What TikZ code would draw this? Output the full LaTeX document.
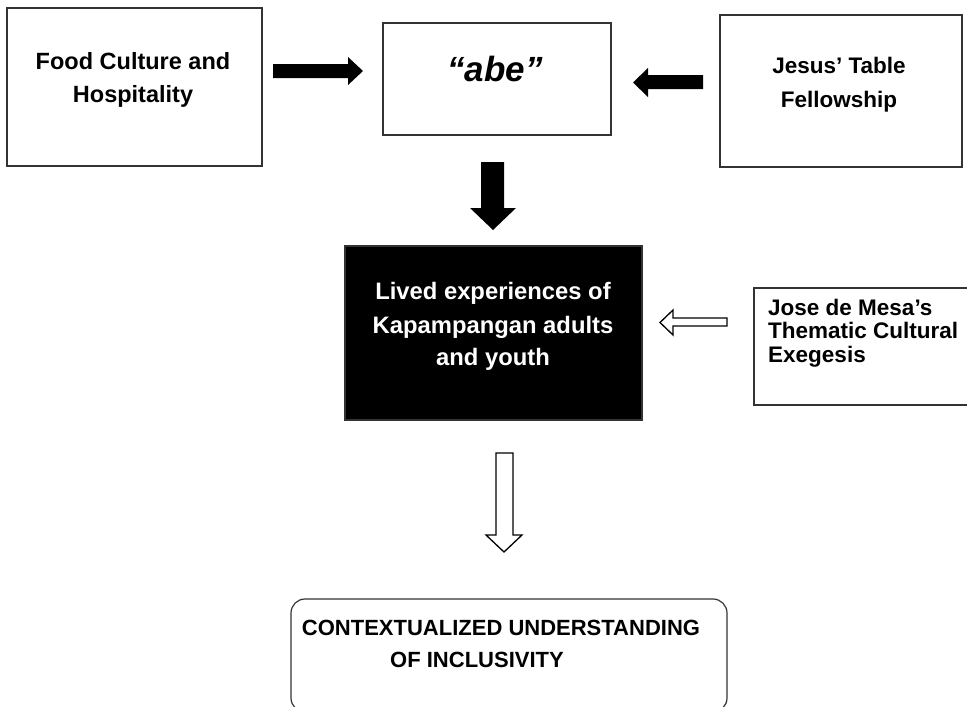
\documentclass[tikz,border=0pt]{standalone}
\usepackage{fontspec}
\setmainfont{Liberation Sans}
\begin{document}
\begin{tikzpicture}[x=1pt,y=-1pt,
  box/.style={draw=black!80, line width=1.2pt, inner sep=0pt, fill=white},
  blackbox/.style={draw=black!80, line width=1.2pt, inner sep=0pt, fill=black},
  txt/.style={font=\bfseries\fontsize{22}{26}\selectfont, anchor=base, inner sep=0pt},
  wtxt/.style={txt, text=white, font=\bfseries\fontsize{23.8}{26}\selectfont},
  ltxt/.style={font=\bfseries\fontsize{22.5}{24}\selectfont, anchor=base west, inner sep=0pt},
  solidarrow/.style={fill=black, draw=none},
  hollowarrow/.style={fill=white, draw=black, line width=1.3pt, line join=miter}]
\useasboundingbox[fill=white] (0,0) rectangle (967,707);

% boxes
\node[box, minimum width=255pt, minimum height=158pt] (food) at (134.5,87) {};
\node[box, minimum width=228pt, minimum height=112pt] (abe) at (497,79) {};
\node[box, minimum width=242pt, minimum height=152pt] (jesus) at (841,91) {};
\node[blackbox, minimum width=297pt, minimum height=174pt] (lived) at (493.5,333) {};
\node[box, minimum width=214pt, minimum height=117pt] (jose) at (861,346.5) {};
\node[box, rounded corners=14pt, minimum width=436pt, minimum height=113pt] (ctx) at (509,655.5) {};

% texts
\node[txt, font=\bfseries\fontsize{23.5}{26}\selectfont] (t1a) at (133,69) {Food Culture and};
\node[txt, font=\bfseries\fontsize{23.5}{26}\selectfont] (t1b) at (133,102) {Hospitality};
\node[font=\bfseries\itshape\fontsize{35}{38}\selectfont, anchor=base, inner sep=0pt] (t2) at (495,81) {“abe”};
\node[txt, font=\bfseries\fontsize{22.5}{26}\selectfont] (t3a) at (839,73) {Jesus’ Table};
\node[txt, font=\bfseries\fontsize{22.5}{26}\selectfont] (t3b) at (839,107) {Fellowship};
\node[wtxt] (t4a) at (493,299) {Lived experiences of};
\node[wtxt] (t4b) at (493,333) {Kapampangan adults};
\node[wtxt] (t4c) at (493,365) {and youth};
\node[ltxt] (t5a) at (768,315) {Jose de Mesa’s};
\node[ltxt] (t5b) at (768,338) {Thematic Cultural};
\node[ltxt] (t5c) at (768,362) {Exegesis};
\node[txt] (t6a) at (501,635) {CONTEXTUALIZED UNDERSTANDING};
\node[txt] (t6b) at (477,667) {OF INCLUSIVITY};

% block arrows
\path[solidarrow] (273,64) -- (348,64) -- (348,57) -- (363,71) -- (348,85) -- (348,78) -- (273,78) -- cycle;
\path[solidarrow] (703,75) -- (648,75) -- (648,68) -- (633,82.5) -- (648,97) -- (648,89) -- (703,89) -- cycle;
\path[solidarrow] (481,162) -- (504,162) -- (504,208) -- (516,208) -- (493,230) -- (470,208) -- (481,208) -- cycle;
\path[hollowarrow] (727,318) -- (673,318) -- (673,310) -- (660,322.5) -- (673,335) -- (673,326) -- (727,326) -- cycle;
\path[hollowarrow] (496,453) -- (513,453) -- (513,535) -- (522,535) -- (504,552) -- (486,535) -- (496,535) -- cycle;
\end{tikzpicture}
\end{document}
